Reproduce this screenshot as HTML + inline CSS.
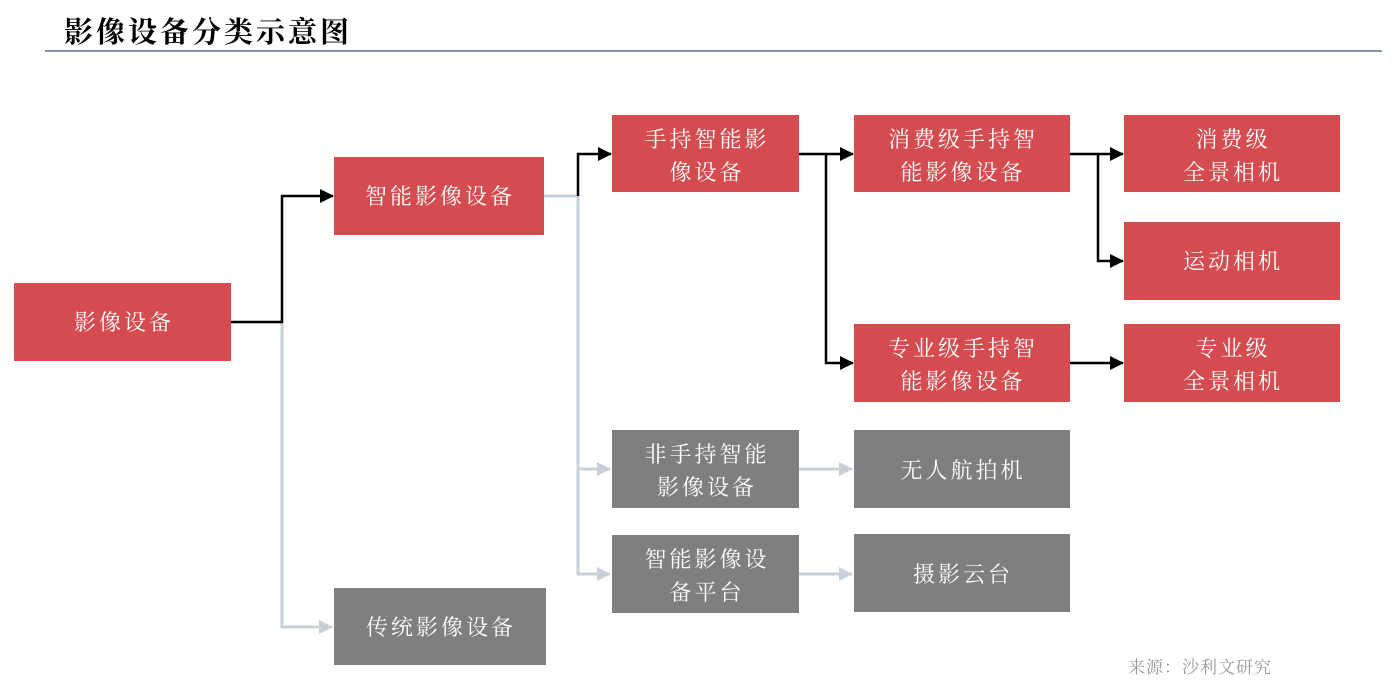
<!DOCTYPE html>
<html><head><meta charset="utf-8"><style>
body{margin:0;background:#fff;}
svg text{font-family:"Liberation Serif","Noto Serif CJK SC",serif;}
</style></head><body>
<svg width="1400" height="692" viewBox="0 0 1400 692" xmlns="http://www.w3.org/2000/svg">
<defs>
<marker id="ab" markerWidth="14" markerHeight="14" refX="13" refY="7" orient="auto" markerUnits="userSpaceOnUse"><path d="M0,0 L14,7 L0,14z" fill="#000"/></marker>
<marker id="ag" markerWidth="14" markerHeight="14" refX="13" refY="7" orient="auto" markerUnits="userSpaceOnUse"><path d="M0,0 L14,7 L0,14z" fill="#c9d0d8"/></marker>
</defs>
<text x="64" y="42" font-size="29" font-weight="bold" fill="#000" letter-spacing="3">影像设备分类示意图</text>
<line x1="45" y1="51" x2="1382" y2="51" stroke="#8a94a6" stroke-width="2"/>
<g fill="none" stroke="#c9d0d8" stroke-width="3">
<polyline points="544,196 578,196 578,574 610,574" marker-end="url(#ag)"/>
<polyline points="578,469 610,469" marker-end="url(#ag)"/>
<polyline points="282,322 282,627 332,627" marker-end="url(#ag)"/>
<polyline points="799,469 852,469" marker-end="url(#ag)"/>
<polyline points="799,574 852,574" marker-end="url(#ag)"/>
</g>
<g fill="none" stroke="#000" stroke-width="2.5">
<polyline points="231,322 282,322 282,196 333,196" marker-end="url(#ab)"/>
<polyline points="578,196 578,154 611,154" marker-end="url(#ab)"/>
<polyline points="799,154 853,154" marker-end="url(#ab)"/>
<polyline points="826,154 826,363 853,363" marker-end="url(#ab)"/>
<polyline points="1070,154 1123,154" marker-end="url(#ab)"/>
<polyline points="1098,154 1098,261 1123,261" marker-end="url(#ab)"/>
<polyline points="1070,363 1123,363" marker-end="url(#ab)"/>
</g>
<g fill="#d44c4f">
<rect x="14" y="283" width="217" height="78"/>
<rect x="334" y="157" width="210" height="78"/>
<rect x="612" y="115" width="187" height="77"/>
<rect x="854" y="115" width="216" height="77"/>
<rect x="854" y="324" width="216" height="78"/>
<rect x="1124" y="115" width="216" height="77"/>
<rect x="1124" y="222" width="216" height="78"/>
<rect x="1124" y="324" width="216" height="78"/>
</g>
<g fill="#7f7f7f">
<rect x="334" y="588" width="212" height="77"/>
<rect x="612" y="430" width="187" height="78"/>
<rect x="612" y="535" width="187" height="78"/>
<rect x="854" y="430" width="216" height="78"/>
<rect x="854" y="534" width="216" height="78"/>
</g>
<g fill="#fff" font-size="22" text-anchor="middle" letter-spacing="3">
<text x="124" y="330">影像设备</text>
<text x="440" y="204">智能影像设备</text>
<text x="441" y="635">传统影像设备</text>
<text x="707" y="147">手持智能影</text><text x="707" y="180">像设备</text>
<text x="963" y="147">消费级手持智</text><text x="963" y="180">能影像设备</text>
<text x="963" y="356">专业级手持智</text><text x="963" y="389">能影像设备</text>
<text x="1233" y="147">消费级</text><text x="1233" y="180">全景相机</text>
<text x="1233" y="269">运动相机</text>
<text x="1233" y="356">专业级</text><text x="1233" y="389">全景相机</text>
<text x="707" y="462">非手持智能</text><text x="707" y="495">影像设备</text>
<text x="707" y="567">智能影像设</text><text x="707" y="600">备平台</text>
<text x="963" y="478">无人航拍机</text>
<text x="963" y="582">摄影云台</text>
</g>
<text x="1128" y="673" font-size="17" fill="#999" letter-spacing="1">来源：沙利文研究</text>
</svg>
</body></html>
